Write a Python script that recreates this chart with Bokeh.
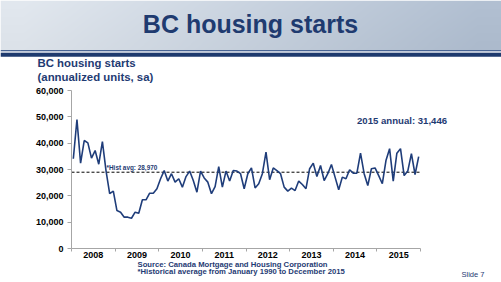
import numpy as np
from bokeh.plotting import figure
from bokeh.layouts import column
from bokeh.models import Range1d, FixedTicker, NumeralTickFormatter, Label, ColumnDataSource
from bokeh.embed import file_html
from bokeh.resources import INLINE

# ---------------- data (annualized units, sa), monthly ----------------
years = ["2008", "2009", "2010", "2011", "2012", "2013", "2014", "2015"]
starts_2008 = [34100, 49000, 32400, 41000, 40100, 34300, 37200, 32000, 40600, 29500, 20800, 21800]
starts_2009 = [14400, 13800, 11900, 11900, 11500, 13800, 13400, 18500, 18500, 21000, 21000, 22700]
starts_2010 = [26500, 29600, 25600, 28400, 25200, 26500, 23300, 27300, 29400, 25800, 21400, 29400]
starts_2011 = [26800, 25200, 20800, 23500, 31100, 23300, 29400, 25600, 29600, 29400, 28400, 22700]
starts_2012 = [28400, 30600, 23000, 24600, 28400, 36600, 26100, 30600, 29600, 28400, 23300, 21800]
starts_2013 = [22900, 22000, 25600, 24300, 22700, 30300, 32400, 27300, 31500, 25800, 28400, 31900]
starts_2014 = [27100, 22300, 27100, 26500, 29900, 28600, 28600, 36200, 28400, 23900, 30300, 30600]
starts_2015 = [27700, 24600, 33400, 37900, 25600, 36200, 37900, 27700, 29400, 36000, 28100, 34900]
hist_avg = 28970
annual_2015 = "31,446"
y_ticks = [0, 10000, 20000, 30000, 40000, 50000, 60000]

values = (starts_2008 + starts_2009 + starts_2010 + starts_2011 +
          starts_2012 + starts_2013 + starts_2014 + starts_2015)
n_months = len(values)
month_pos = [i + 0.5 for i in range(n_months)]
src = ColumnDataSource(dict(x=month_pos, y=values))

NAVY = "#1f3b73"
FONT = "Liberation Sans"
W = 501
TOP_H = 84          # banner + subtitle strip
FOOT_Y = 261        # where footer strip begins
H = 282


def bare_fig(height, y0):
    f = figure(width=W, height=height, x_range=Range1d(0, W), y_range=Range1d(y0 + height, y0),
               toolbar_location=None, output_backend="svg",
               x_axis_location=None, y_axis_location=None, min_border=0)
    f.grid.visible = False
    f.outline_line_color = None
    f.background_fill_color = "white"
    f.border_fill_color = "white"
    f.frame_align = False
    return f


def txt(f, x, y, text, size, bold=True, color=NAVY, align="left"):
    f.add_layout(Label(x=x, y=y, text=text, text_align=align, text_baseline="middle",
                       text_font=FONT, text_font_size=size,
                       text_font_style="bold" if bold else "normal", text_color=color))


# ---------------- banner + subtitle ----------------
top = bare_fig(TOP_H, 0)
nx, ny = W, 50
xs = np.linspace(0, 1, nx)[None, :]
ys = np.linspace(0, 1, ny)[:, None]
c_left = np.array([226, 232, 239], dtype=float)
c_right = np.array([178, 192, 210], dtype=float)
t = np.clip(xs * 1.1 - 0.05, 0, 1) + 0.0 * ys
col = c_left[None, None, :] * (1 - t[..., None]) + c_right[None, None, :] * t[..., None]
col = col - 6 * ys[..., None]
col = np.clip(col, 0, 255).astype(np.uint32)
img = ((255 << 24) | (col[..., 2] << 16) | (col[..., 1] << 8) | col[..., 0]).astype(np.uint32)
top.image_rgba(image=[img], x=0, y=0, dw=W, dh=49.5)
top.quad(left=[0], right=[W], top=[49.5], bottom=[51.0], fill_color="#4a6594", line_color=None)
top.quad(left=[0], right=[W], top=[51.0], bottom=[52.3], fill_color="#dfe5ee", line_color=None)
top.quad(left=[0], right=[W], top=[52.3], bottom=[56.2], fill_color="#1e3a6e", line_color=None)
txt(top, 250, 23.5, "BC housing starts", "25px", color="#1f3b70", align="center")
txt(top, 37, 62.5, "BC housing starts", "11.4px")
txt(top, 37, 76.4, "(annualized units, sa)", "11.4px")

# ---------------- main chart ----------------
FL, FR, FT, FB = 71, 420, 90, 248          # plot-area edges in page pixels
px_per_month = (FR - FL) / n_months
units_per_px = 60000 / (FB - FT)
x_end = n_months + (W - FR) / px_per_month
y_end = 60000 + (FT - TOP_H) * units_per_px

p = figure(width=W, height=FOOT_Y - TOP_H, x_range=Range1d(0, x_end), y_range=Range1d(0, y_end),
           toolbar_location=None, output_backend="svg",
           min_border_left=FL, min_border_right=0, min_border_top=0,
           min_border_bottom=FOOT_Y - FB)
p.frame_align = False
p.grid.visible = False
p.outline_line_color = None
p.background_fill_color = "white"
p.border_fill_color = "white"

AX = "#a6a6a6"
xa = p.xaxis[0]
xa.bounds = (0, n_months)
xa.ticker = FixedTicker(ticks=[12 * i + 6 for i in range(len(years))],
                        minor_ticks=[12 * i for i in range(len(years) + 1)])
xa.major_label_overrides = {12 * i + 6: y for i, y in enumerate(years)}
xa.major_tick_out = 0
xa.major_tick_in = 0
xa.minor_tick_out = 3
xa.minor_tick_in = 0
xa.axis_line_color = AX
xa.minor_tick_line_color = AX
xa.major_label_standoff = 0
xa.major_label_text_font = FONT
xa.major_label_text_font_size = "9px"
xa.major_label_text_font_style = "bold"
xa.major_label_text_color = "black"

ya = p.yaxis[0]
ya.bounds = (0, 60000)
ya.ticker = FixedTicker(ticks=y_ticks, minor_ticks=[])
ya.formatter = NumeralTickFormatter(format="0,0")
ya.major_tick_out = 4
ya.major_tick_in = 0
ya.minor_tick_out = 0
ya.minor_tick_in = 0
ya.axis_line_color = AX
ya.major_tick_line_color = AX
ya.major_label_standoff = 4
ya.major_label_text_font = FONT
ya.major_label_text_font_size = "9px"
ya.major_label_text_font_style = "bold"
ya.major_label_text_color = "black"

p.line(x=[0, n_months], y=[hist_avg, hist_avg], line_color="black", line_dash="3 2", line_width=1)
p.line("x", "y", source=src, line_color="#1f3d7a", line_width=1.6)


def X(px):
    return (px - FL) / px_per_month


def Y(py):
    return (FB - py) * units_per_px


txt(p, X(356.5), Y(119.5), "2015 annual: " + annual_2015, "9.6px")
txt(p, X(106), Y(166.6), "*Hist avg:  " + f"{hist_avg:,}", "6.4px")

# ---------------- footer ----------------
foot = bare_fig(H - FOOT_Y, FOOT_Y)
txt(foot, 137, 263.8, "Source: Canada Mortgage and Housing Corporation", "7.7px")
txt(foot, 137, 270.9, "*Historical average from January 1990 to December 2015", "7.7px")
txt(foot, 461, 274.3, "Slide 7", "7.5px", bold=False)

layout = column(top, p, foot, spacing=0)
open("out.html", "w").write(file_html(layout, INLINE))
